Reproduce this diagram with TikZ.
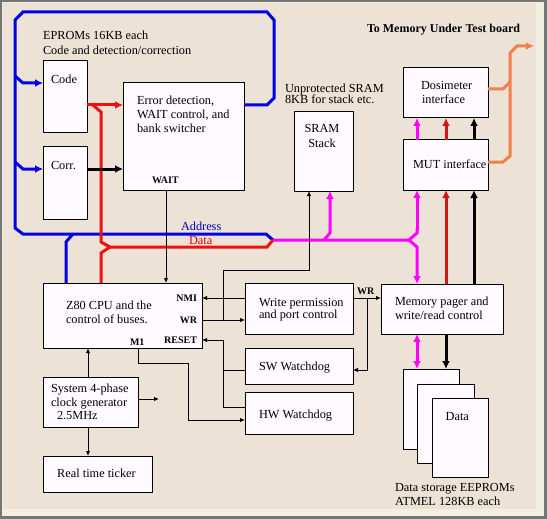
\documentclass[tikz,border=0pt]{standalone}
\usepackage{fontspec}
\setmainfont{Liberation Serif}
\usetikzlibrary{arrows.meta}
\definecolor{bgc}{HTML}{ECE2D5}
\definecolor{bglight}{HTML}{F2EEE0}
\definecolor{framec}{HTML}{767676}
\definecolor{boxfill}{HTML}{FFFAFF}
\definecolor{busblue}{HTML}{0000E6}
\definecolor{busred}{HTML}{F01010}
\definecolor{busmag}{HTML}{FF00FF}
\definecolor{darkred}{HTML}{D01818}
\definecolor{orangec}{HTML}{F0804C}
\definecolor{lblblue}{HTML}{0000C8}
\definecolor{lblred}{HTML}{E00000}
\begin{document}
\begin{tikzpicture}[x=1pt,y=-1pt,
  box/.style={draw=black,line width=1pt,fill=boxfill,inner sep=0pt,outer sep=0pt,anchor=north west},
  txt/.style={inner sep=0pt,outer sep=0pt,anchor=north west,align=left,font=\fontsize{12.3}{14}\selectfont},
  ltxt/.style={inner sep=0pt,outer sep=0pt,anchor=base west,font=\fontsize{12.3}{14}\selectfont},
  sig/.style={inner sep=0pt,outer sep=0pt,font=\bfseries\fontsize{10}{12}\selectfont},
  thin/.style={draw=black,line width=1pt,-{Latex[length=5pt,width=4.5pt]}},
  thinl/.style={draw=black,line width=1pt},
  thick/.style={line width=3pt,line join=miter,miter limit=4},
  tip/.style={-{Latex[length=8pt,width=8pt]}}
]
% frame
\fill[framec] (0,0) rectangle (547,519);
\fill[bglight] (2,2) rectangle (544,516);
\fill[bgc] (3,3) rectangle (536,509);
\useasboundingbox (0,0) rectangle (547,519);

% boxes
\node[box,minimum width=44pt,minimum height=72pt] (code) at (43,61) {};
\node[box,minimum width=44pt,minimum height=72pt] (corr) at (43,147) {};
\node[box,minimum width=121pt,minimum height=107pt] (err) at (123,83) {};
\node[box,minimum width=159pt,minimum height=65pt] (cpu) at (43,283) {};
\node[box,minimum width=108pt,minimum height=51pt] (wp) at (245,283) {};
\node[box,minimum width=108pt,minimum height=36pt] (sw) at (245,348) {};
\node[box,minimum width=108pt,minimum height=42pt] (hw) at (245,392) {};
\node[box,minimum width=59pt,minimum height=79pt] (sram) at (294,112) {};
\node[box,minimum width=85pt,minimum height=50pt] (dos) at (403,68) {};
\node[box,minimum width=85pt,minimum height=50pt] (mut) at (403,140) {};
\node[box,minimum width=122pt,minimum height=50pt] (pager) at (381,284) {};
\node[box,minimum width=56pt,minimum height=80pt] (d1) at (403,369) {};
\node[box,minimum width=57pt,minimum height=79pt] (d2) at (417,384) {};
\node[box,minimum width=56pt,minimum height=79pt] (d3) at (432,398) {};
\node[box,minimum width=95pt,minimum height=50pt] (clk) at (43,377) {};
\node[box,minimum width=109pt,minimum height=36pt] (rtt) at (43,456) {};

% texts
\node[txt,font=\fontsize{12.3}{14.5}\selectfont] (teprom) at (43,31.2) {EPROMs 16KB each\\Code and detection/correction};
\node[ltxt] (tcode) at (51,83.1) {Code};
\node[ltxt] (tcorr) at (51,169) {Corr.};
\node[txt] (terr) at (137,96.2) {Error detection,\\WAIT control, and\\bank switcher};
\node[txt,font=\fontsize{12.3}{13.3}\selectfont] (tcpu) at (66,301.4) {Z80 CPU and the\\control of buses.};
\node[txt,font=\fontsize{12.3}{12.5}\selectfont] (twp) at (259,298.2) {Write permission\\and port control};
\node[ltxt] (tsw) at (259,370.7) {SW Watchdog};
\node[ltxt] (thw) at (259,418) {HW Watchdog};
\node[txt] (tpager) at (395,297.2) {Memory pager and\\write/read control};
\node[txt,font=\fontsize{12.3}{11.7}\selectfont] (tunp) at (285,83.7) {Unprotected SRAM\\8KB for stack etc.};
\node[txt,align=center,anchor=north,font=\fontsize{12.3}{15}\selectfont] (tsram) at (322,124) {SRAM\\Stack};
\node[txt,font=\fontsize{12.3}{14.2}\selectfont] (tdos) at (421,81.5) {Dosimeter\\\hspace*{1pt}interface};
\node[ltxt] (tmut) at (413,168) {MUT interface};
\node[txt,font=\fontsize{12.3}{13.7}\selectfont] (tclk) at (51,384) {System 4-phase\\clock generator\\\hspace*{6pt}2.5MHz};
\node[ltxt,anchor=base] (trtt) at (96.5,477.6) {Real time ticker};
\node[ltxt,anchor=base] (tdata) at (457.3,420) {Data};
\node[txt,font=\fontsize{12.3}{14.5}\selectfont] (tstore) at (395,483.2) {Data storage EEPROMs\\ATMEL 128KB each};
\node[ltxt,font=\bfseries\fontsize{12}{14}\selectfont] (tmutb) at (367,32.3) {To Memory Under Test board};
\node[ltxt,anchor=west,text=lblblue] (taddr) at (181,226.7) {Address};
\node[ltxt,anchor=west,text=lblred] (tdat) at (189,240.7) {Data};
% signal names
\node[sig,anchor=west] (swait) at (152,180) {WAIT};
\node[sig,anchor=east] (snmi) at (197,298) {NMI};
\node[sig,anchor=east] (swr) at (197,320) {WR};
\node[sig,anchor=east] (sreset) at (197,340) {RESET};
\node[sig,anchor=west] (sm1) at (130,342) {M1};
\node[sig,anchor=west] (swr2) at (357,291.7) {WR};

% blue address bus
\draw[busblue,thick] (err.east |- 0,105) -- (267,105) -- (274,98) -- (274,20) -- (267,12)
  -- (23,12) -- (15,20) -- (15,228) -- (23,234) -- (266,234) -- (273,240);
\draw[busblue,thick,tip] (15,76) -- (23,83) -- (code.west |- 0,83);
\draw[busblue,thick,tip] (15,162) -- (23,169) -- (corr.west |- 0,169);
\draw[busblue,thick] (cpu.north -| 66,0) -- (66,242) -- (73,234);

% red data bus
\draw[busred,thick,tip] (code.east |- 0,105) -- (err.west |- 0,105);
\draw[busred,thick] (93,105) -- (101,112) -- (101,242) -- (110,247) -- (267,247) -- (273,240);
\draw[busred,thick] (110,247) -- (101,253) -- (cpu.north -| 101,0);

% magenta merged bus
\draw[busmag,thick] (273,240) -- (409,240) -- (417,233) -- (417,228);
\draw[busmag,thick,tip] (417,230) -- (mut.south -| 417,0);
\draw[busmag,thick,tip] (409,240) -- (417,247) -- (pager.north -| 417,0);
\draw[busmag,thick,tip] (324,240) -- (330,233) -- (sram.south -| 330,0);
\draw[busmag,thick,tip] (mut.north -| 417,0) -- (dos.south -| 417,0);
\draw[busmag,thick,{Latex[length=8pt,width=8pt]}-{Latex[length=8pt,width=8pt]}] (pager.south -| 417,0) -- (d1.north -| 417,0);

% dark red and black thick links
\draw[darkred,thick,tip] (pager.north -| 446,0) -- (mut.south -| 446,0);
\draw[darkred,thick,tip] (mut.north -| 446,0) -- (dos.south -| 446,0);
\draw[black,thick,tip] (pager.north -| 474,0) -- (mut.south -| 474,0);
\draw[black,thick,tip] (mut.north -| 474,0) -- (dos.south -| 474,0);
\draw[black,thick,tip] (pager.south -| 446,0) -- (d1.north -| 446,0);
\draw[black,thick,tip] (corr.east |- 0,169) -- (err.west |- 0,169);

% orange to MUT board
\coordinate (mutboard) at (534,46);
\draw[orangec,thick] (dos.east |- 0,89) -- (503,89) -- (510,82);
\draw[orangec,thick,tip] (mut.east |- 0,162) -- (503,162) -- (510,156) -- (510,53) -- (517,46) -- (mutboard);

% thin control lines
\draw[thin] (err.south -| 166,0) -- (cpu.north -| 166,0);
\draw[thin] (wp.west |- 0,298) -- (cpu.east |- 0,298);
\draw[thin] (cpu.east |- 0,320) -- (wp.west |- 0,320);
\draw[thin] (223,320) -- (223,270) -- (309,270) -- (sram.south -| 309,0);
\draw[thin] (hw.west |- 0,407) -- (223,407) -- (223,340) -- (cpu.east |- 0,340);
\draw[thinl] (sw.west |- 0,370) -- (223,370);
\draw[thin] (cpu.south -| 138,0) -- (138,363) -- (188,363) -- (188,420) -- (hw.west |- 0,420);
\draw[thin] (wp.east |- 0,298) -- (pager.west |- 0,298);
\draw[thin] (367,298) -- (367,370) -- (sw.east |- 0,370);
\draw[thin] (clk.north -| 88,0) -- (cpu.south -| 88,0);
\draw[thin] (clk.south -| 88,0) -- (rtt.north -| 88,0);
\coordinate (clkout) at (159,399);
\draw[thin] (clk.east |- 0,399) -- (clkout);
\end{tikzpicture}
\end{document}
